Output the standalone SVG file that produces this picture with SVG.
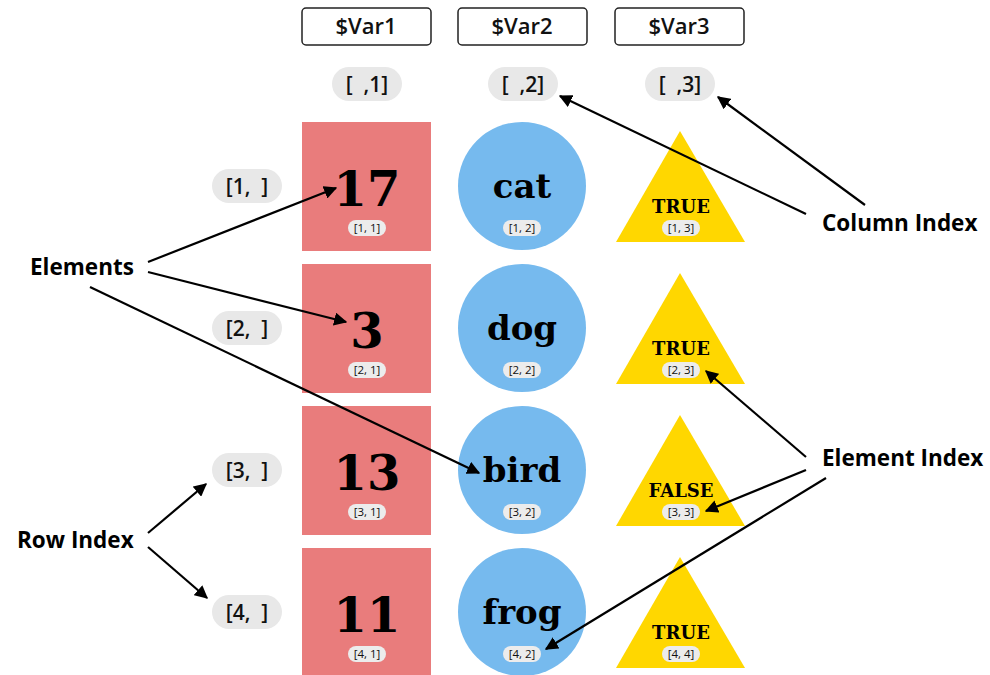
<svg xmlns="http://www.w3.org/2000/svg" width="990" height="675" viewBox="0 0 990 675">
<style>
.hdr{fill:#fff;stroke:#222;stroke-width:1.5}
.hdrt{font-family:"Open Sans","Liberation Sans",sans-serif;font-size:22px;font-weight:600;fill:#111;text-anchor:middle}
.pill{fill:#e8e8e8}
.pillt{font-family:"Open Sans","Liberation Sans",sans-serif;font-size:21px;font-weight:600;fill:#111;text-anchor:middle;white-space:pre}
.sp{fill:#ececec}
.spt{font-family:"Open Sans","Liberation Sans",sans-serif;font-size:11.5px;fill:#111;text-anchor:middle}
.sq{fill:#e97c7c}
.ci{fill:#76baee}
.tr{fill:#ffd700}
.big{font-family:"DejaVu Serif","Liberation Serif",serif;font-weight:bold;fill:#000;text-anchor:middle}
.lab{font-family:"Open Sans","Liberation Sans",sans-serif;font-size:22.5px;font-weight:bold;fill:#000}
.arr{stroke:#000;stroke-width:2.2;fill:none;marker-end:url(#ah)}
</style>
<defs>
<marker id="ah" viewBox="0 0 10 10" refX="9" refY="5" markerWidth="6" markerHeight="6" orient="auto" markerUnits="strokeWidth">
<path d="M0,0 L10,5 L0,10 z" fill="#000"/>
</marker>
</defs>
<rect width="990" height="675" fill="#fff"/>
<g id="var1"><rect class="hdr" x="302" y="8" width="129" height="37" rx="4"/><text class="hdrt" x="366" y="34">$Var1</text></g>
<g id="var2"><rect class="hdr" x="458" y="8" width="129" height="37" rx="4"/><text class="hdrt" x="522" y="34">$Var2</text></g>
<g id="var3"><rect class="hdr" x="615" y="8" width="129" height="37" rx="4"/><text class="hdrt" x="679" y="34">$Var3</text></g>
<g id="col1"><rect class="pill" x="332" y="67" width="70" height="34" rx="17"/><text class="pillt" x="367" y="92" xml:space="preserve">[  ,1]</text></g>
<g id="col2"><rect class="pill" x="488" y="67" width="70" height="34" rx="17"/><text class="pillt" x="523" y="92" xml:space="preserve">[  ,2]</text></g>
<g id="col3"><rect class="pill" x="645" y="67" width="70" height="34" rx="17"/><text class="pillt" x="680" y="92" xml:space="preserve">[  ,3]</text></g>
<g id="row1"><rect class="pill" x="212" y="169" width="70" height="34" rx="17"/><text class="pillt" x="247" y="194" xml:space="preserve">[1,  ]</text></g>
<g id="row2"><rect class="pill" x="212" y="311" width="70" height="34" rx="17"/><text class="pillt" x="247" y="336" xml:space="preserve">[2,  ]</text></g>
<g id="row3"><rect class="pill" x="212" y="453" width="70" height="34" rx="17"/><text class="pillt" x="247" y="478" xml:space="preserve">[3,  ]</text></g>
<g id="row4"><rect class="pill" x="212" y="595" width="70" height="34" rx="17"/><text class="pillt" x="247" y="620" xml:space="preserve">[4,  ]</text></g>
<g id="e11"><rect class="sq" x="302" y="122" width="129" height="129"/><text class="big" x="367" y="206" font-size="48">17</text><rect class="sp" x="348" y="220" width="38" height="16" rx="8"/><text class="spt" x="367" y="232">[1, 1]</text></g>
<g id="e21"><rect class="sq" x="302" y="264" width="129" height="129"/><text class="big" x="367" y="348" font-size="48">3</text><rect class="sp" x="348" y="362" width="38" height="16" rx="8"/><text class="spt" x="367" y="374">[2, 1]</text></g>
<g id="e31"><rect class="sq" x="302" y="406" width="129" height="129"/><text class="big" x="367" y="490" font-size="48">13</text><rect class="sp" x="348" y="504" width="38" height="16" rx="8"/><text class="spt" x="367" y="516">[3, 1]</text></g>
<g id="e41"><rect class="sq" x="302" y="548" width="129" height="129"/><text class="big" x="367" y="632" font-size="48">11</text><rect class="sp" x="348" y="646" width="38" height="16" rx="8"/><text class="spt" x="367" y="658">[4, 1]</text></g>
<g id="e12"><circle class="ci" cx="522" cy="186" r="64"/><text class="big" x="522" y="198" font-size="34">cat</text><rect class="sp" x="503" y="220" width="38" height="16" rx="8"/><text class="spt" x="522" y="232">[1, 2]</text></g>
<g id="e22"><circle class="ci" cx="522" cy="328" r="64"/><text class="big" x="522" y="340" font-size="34">dog</text><rect class="sp" x="503" y="362" width="38" height="16" rx="8"/><text class="spt" x="522" y="374">[2, 2]</text></g>
<g id="e32"><circle class="ci" cx="522" cy="470" r="64"/><text class="big" x="522" y="482" font-size="34">bird</text><rect class="sp" x="503" y="504" width="38" height="16" rx="8"/><text class="spt" x="522" y="516">[3, 2]</text></g>
<g id="e42"><circle class="ci" cx="522" cy="612" r="64"/><text class="big" x="522" y="624" font-size="34">frog</text><rect class="sp" x="503" y="646" width="38" height="16" rx="8"/><text class="spt" x="522" y="658">[4, 2]</text></g>
<g id="e13"><polygon class="tr" points="680,131 745,242 616,242"/><text class="big" x="681" y="213" font-size="18">TRUE</text><rect class="sp" x="662" y="220" width="38" height="16" rx="8"/><text class="spt" x="681" y="232">[1, 3]</text></g>
<g id="e23"><polygon class="tr" points="680,273 745,384 616,384"/><text class="big" x="681" y="355" font-size="18">TRUE</text><rect class="sp" x="662" y="362" width="38" height="16" rx="8"/><text class="spt" x="681" y="374">[2, 3]</text></g>
<g id="e33"><polygon class="tr" points="680,415 745,526 616,526"/><text class="big" x="681" y="497" font-size="18">FALSE</text><rect class="sp" x="662" y="504" width="38" height="16" rx="8"/><text class="spt" x="681" y="516">[3, 3]</text></g>
<g id="e43"><polygon class="tr" points="680,557 745,668 616,668"/><text class="big" x="681" y="639" font-size="18">TRUE</text><rect class="sp" x="662" y="646" width="38" height="16" rx="8"/><text class="spt" x="681" y="658">[4, 4]</text></g>
<g id="lbl-elements"><text class="lab" x="30" y="275">Elements</text></g>
<g id="lbl-row"><text class="lab" x="17" y="548">Row Index</text></g>
<g id="lbl-col"><text class="lab" x="822" y="231">Column Index</text></g>
<g id="lbl-elidx"><text class="lab" x="822" y="466">Element Index</text></g>
<g id="connectors">
<line class="arr" x1="148" y1="262" x2="336" y2="188"/>
<line class="arr" x1="148" y1="272" x2="346" y2="322"/>
<line class="arr" x1="90" y1="287" x2="479" y2="473"/>
<line class="arr" x1="148" y1="533" x2="206" y2="484"/>
<line class="arr" x1="148" y1="547" x2="207" y2="598"/>
<line class="arr" x1="806" y1="214" x2="560" y2="96"/>
<line class="arr" x1="865" y1="205" x2="718" y2="97"/>
<line class="arr" x1="806" y1="457" x2="706" y2="371"/>
<line class="arr" x1="806" y1="470" x2="706" y2="511"/>
<line class="arr" x1="826" y1="478" x2="546" y2="649"/>
</g>
</svg>
